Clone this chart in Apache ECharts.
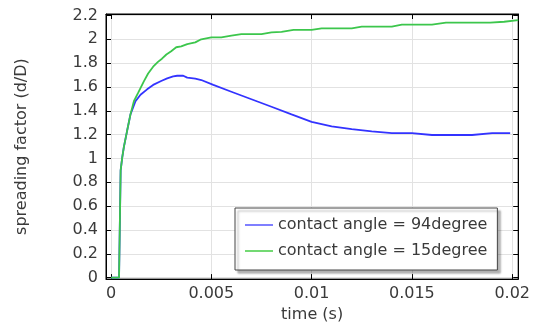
<!DOCTYPE html>
<html>
<head>
<meta charset="utf-8">
<script src="https://cdn.jsdelivr.net/npm/echarts@6/dist/echarts.min.js"></script>
<style>
  html, body { margin: 0; padding: 0; background: #fff; }
  #chart { width: 533px; height: 328px; }
</style>
</head>
<body>
<div id="chart"></div>
<script>
// time (s) and spreading factor
var tBlue = [0, 0.0004, 0.00048, 0.00056, 0.00064, 0.0008, 0.00097, 0.00122, 0.00147, 0.0018,
    0.0021, 0.0025, 0.0028, 0.0031, 0.0033, 0.0036, 0.0038, 0.0042, 0.0045, 0.0051,
    0.006, 0.007, 0.008, 0.009, 0.01, 0.011, 0.012, 0.013, 0.014, 0.015,
    0.016, 0.017, 0.018, 0.019, 0.0199];
var yBlue = [0, 0, 0.90, 1.01, 1.095, 1.23, 1.37, 1.48, 1.535, 1.58,
    1.617, 1.65, 1.672, 1.688, 1.694, 1.694, 1.678, 1.67, 1.658, 1.617,
    1.56, 1.497, 1.434, 1.37, 1.307, 1.27, 1.246, 1.228, 1.213, 1.213,
    1.197, 1.197, 1.197, 1.213, 1.213];

var tGreen = [0, 0.0004, 0.00048, 0.00056, 0.00064, 0.0008, 0.00097, 0.00114, 0.00135, 0.00163,
    0.00185, 0.0021, 0.00234, 0.00254, 0.00276, 0.003, 0.00325, 0.0035, 0.0038, 0.0042,
    0.0045, 0.005, 0.0055, 0.006, 0.0065, 0.0075, 0.008, 0.0085, 0.0091, 0.01,
    0.0105, 0.012, 0.0125, 0.014, 0.0145, 0.016, 0.0167, 0.0189, 0.0196, 0.0203];
var yGreen = [0, 0, 0.90, 1.01, 1.095, 1.23, 1.37, 1.48, 1.55, 1.645,
    1.713, 1.77, 1.81, 1.837, 1.872, 1.90, 1.933, 1.94, 1.96, 1.974,
    2.0, 2.016, 2.016, 2.03, 2.043, 2.043, 2.057, 2.062, 2.078, 2.078,
    2.092, 2.092, 2.106, 2.106, 2.123, 2.123, 2.139, 2.139, 2.147, 2.16];

var xTicks = [0, 0.005, 0.01, 0.015, 0.02];
var yTicks = [0, 0.2, 0.4, 0.6, 0.8, 1, 1.2, 1.4, 1.6, 1.8, 2, 2.2];
var names = ['contact angle = 94degree', 'contact angle = 15degree'];

function pairs(xs, ys) {
    return xs.map(function(x, i) { return [x, ys[i]]; });
}

var font = 'DejaVu Sans';
var textCol = '#3a3a3a';

function xAxisDef(pos, labels) {
    return {
        type: 'value', position: pos, min: -0.00025, max: 0.0203,
        name: labels ? 'time (s)' : '', nameLocation: 'middle', nameGap: 26,
        nameTextStyle: { fontFamily: font, fontSize: 16, color: textCol },
        axisLine: { show: true, onZero: false, lineStyle: { color: '#000', width: 1 } },
        axisTick: { show: true, inside: true, length: 5, customValues: xTicks, lineStyle: { color: '#000' } },
        axisLabel: { show: labels, customValues: xTicks, margin: 7, fontFamily: font, fontSize: 16, color: textCol,
            formatter: function(v) { return String(v); } },
        splitLine: { show: labels, lineStyle: { color: '#e2e2e2', width: 1 } }
    };
}

function yAxisDef(pos, labels) {
    return {
        type: 'value', position: pos, min: -0.012, max: 2.212,
        name: labels ? 'spreading factor (d/D)' : '', nameLocation: 'middle', nameGap: 76,
        nameTextStyle: { fontFamily: font, fontSize: 16, color: textCol },
        axisLine: { show: true, onZero: false, lineStyle: { color: '#000', width: 1 } },
        axisTick: { show: true, inside: true, length: 5, customValues: yTicks, lineStyle: { color: '#000' } },
        axisLabel: { show: labels, customValues: yTicks, margin: 8, fontFamily: font, fontSize: 16, color: textCol,
            formatter: function(v) { return String(Math.round(v * 10) / 10); } },
        splitLine: { show: labels, lineStyle: { color: '#e2e2e2', width: 1 } }
    };
}

var chart = echarts.init(document.getElementById('chart'));
chart.setOption({
    animation: false,
    backgroundColor: '#fff',
    grid: { left: 106, right: 12, top: 14, bottom: 44, show: true, borderColor: '#000', borderWidth: 1 },
    xAxis: [xAxisDef('bottom', true), xAxisDef('top', false)],
    yAxis: [yAxisDef('left', true), yAxisDef('right', false)],
    legend: {
        orient: 'vertical', left: 235, top: 208,
        data: names,
        icon: 'rect',
        itemWidth: 28, itemHeight: 1.5, itemGap: 10,
        padding: [9, 10, 11, 10],
        backgroundColor: '#fff', borderColor: '#444', borderWidth: 1, borderRadius: 0,
        shadowColor: 'rgba(0,0,0,0.3)', shadowBlur: 2, shadowOffsetX: 3, shadowOffsetY: 3,
        textStyle: { fontFamily: font, fontSize: 16, color: textCol, lineHeight: 16 }
    },
    series: [
        { name: names[0], type: 'line', symbol: 'none', data: pairs(tBlue, yBlue),
          lineStyle: { color: '#3333ff', width: 1.8 }, itemStyle: { color: '#5555ff' } },
        { name: names[1], type: 'line', symbol: 'none', data: pairs(tGreen, yGreen),
          lineStyle: { color: '#3cc64c', width: 1.8 }, itemStyle: { color: '#44cc44' } }
    ]
});
</script>
</body>
</html>
